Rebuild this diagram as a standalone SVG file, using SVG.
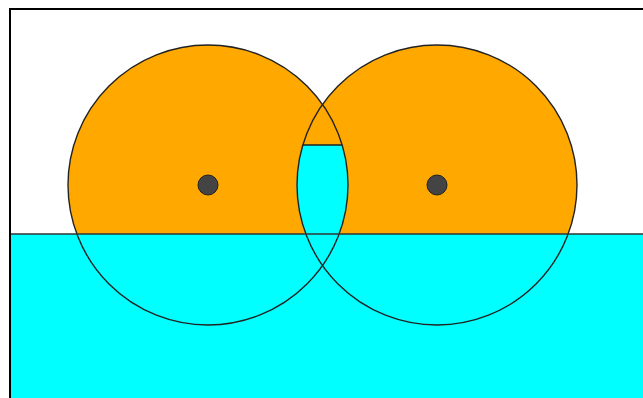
<svg xmlns="http://www.w3.org/2000/svg" width="643" height="398" viewBox="0 0 643 398">
<style>
.orange{fill:#FFA800;stroke:none}
.water{fill:#00FFFF;stroke:none}
.ring{fill:none;stroke:#222;stroke-width:1.4}
.dot{fill:#444;stroke:#222;stroke-width:1}
.frame{fill:none;stroke:#000;stroke-width:2}
</style>
<rect x="0" y="0" width="643" height="398" fill="#fff"/>
<g id="left-circle-fill"><circle class="orange" cx="208" cy="185" r="140"/></g>
<g id="right-circle-fill"><circle class="orange" cx="437" cy="185" r="140"/></g>
<g id="water"><rect class="water" x="10" y="234" width="633" height="164"/></g>
<g id="lens"><path class="water" d="M302.84,145 L342.16,145 A140,140 0 0 1 338.8,236 L306.2,236 A140,140 0 0 1 302.84,145 Z"/></g>
<g id="left-circle"><circle class="ring" cx="208" cy="185" r="140"/><circle class="dot" cx="208" cy="185" r="10"/></g>
<g id="right-circle"><circle class="ring" cx="437" cy="185" r="140"/><circle class="dot" cx="437" cy="185" r="10"/></g>
<g id="lines">
<line x1="302.84" y1="145" x2="342.16" y2="145" stroke="#222" stroke-width="1.6"/>
<line x1="10" y1="234" x2="643" y2="234" stroke="#333" stroke-width="1.6"/>
<polyline class="frame" points="10,398 10,9 643,9"/>
</g>
</svg>
